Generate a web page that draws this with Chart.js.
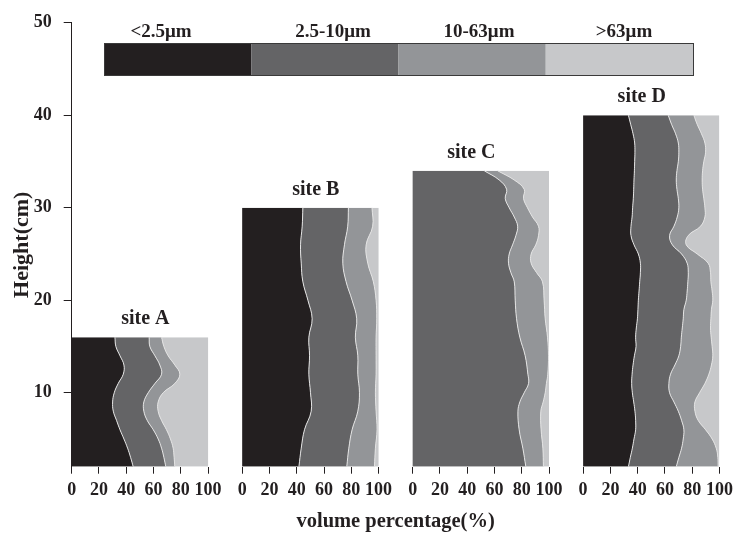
<!DOCTYPE html>
<html>
<head>
<meta charset="utf-8">
<script src="https://cdn.jsdelivr.net/npm/chart.js@4.4.1/dist/chart.umd.min.js"></script>
<style>
  html, body { margin: 0; padding: 0; background: #fff; }
</style>
</head>
<body>
<canvas id="profile" width="739" height="534"></canvas>
<script>
// fraction classes (legend)
const fractions = ['<2.5\u03bcm', '2.5-10\u03bcm', '10-63\u03bcm', '>63\u03bcm'];
const sites = ['site A', 'site B', 'site C', 'site D'];
const xTicks = [0, 20, 40, 60, 80, 100];
const yTicks = [10, 20, 30, 40, 50];

// cumulative boundaries (volume %), bottom -> top
const heightA = [2, 3, 4, 5, 6, 7, 8, 9, 10, 11, 12, 13, 14, 15, 16];
const fineA   = [45.1, 43.2, 41, 38.3, 35.4, 32.9, 30.5, 30, 31.2, 34.1, 37.8, 38.3, 35.4, 32.4, 31.7];
const siltA   = [69, 67.6, 65.9, 63.4, 59.8, 55.4, 52.9, 52.9, 56.1, 61, 65.9, 64.6, 61, 57.3, 56.8];
const sandA   = [75.6, 75.1, 74.4, 72.4, 69.5, 65.9, 63.4, 63.4, 67.1, 75.6, 79.3, 75.6, 70.7, 67.6, 65.9];

const heightB = [2, 4, 6, 8, 10, 12, 14, 16, 18, 20, 22, 24, 26, 28, 30];
const fineB   = [41.6, 43.3, 45.7, 50.6, 50.1, 48.9, 49.4, 48.9, 51.3, 48.2, 44.5, 43.3, 42.8, 44, 44.5];
const siltB   = [76.7, 78.2, 80.6, 84.8, 86, 84.8, 84.8, 83, 84, 80.6, 76.2, 73.8, 75, 77.4, 77.9];
const sandB   = [97, 97.7, 98.9, 98.2, 97.7, 98.2, 98.2, 98.2, 98.7, 98.2, 96.2, 92.1, 90.9, 95.7, 95.2];

const heightC = [2, 4, 6, 8, 9, 10, 11, 12, 14, 16, 18, 20, 22, 23, 24, 25, 26, 27, 28, 29, 30, 31, 32, 33, 34];
const fineC   = [0, 0, 0, 0, 0, 0, 0, 0, 0, 0, 0, 0, 0, 0, 0, 0, 0, 0, 0, 0, 0, 0, 0, 0, 0];
const siltC   = [83, 80.8, 78.1, 77.2, 78.6, 81.8, 85, 84.5, 82.5, 78.6, 76.2, 75.2, 74.5, 72, 70.3, 70.8, 73.3, 75.7, 77, 74.5, 70.8, 67.9, 68.9, 63.5, 52.5];
const sandC   = [95.9, 95.5, 94.2, 94, 95.7, 97.2, 98.1, 99.1, 99.6, 98.9, 97.2, 96.4, 95.2, 90.8, 86.9, 86.9, 90.3, 92.3, 92.3, 87.9, 84.2, 81.3, 81.8, 74.5, 62.3];

const heightD = [2, 3, 4, 5, 6, 7, 8, 9, 10, 11, 12, 13, 14, 15, 16, 17, 18, 19, 20, 21,
                 22, 23, 24, 25, 26, 27, 28, 29, 30, 31, 32, 33, 34, 35, 36, 37, 38, 39, 40];
const fineD   = [33.2, 34.6, 36.1, 37.3, 38.5, 38.5, 38, 37.1, 36.1, 35.6, 35.9, 36.6, 37.6, 38.8, 38.5, 39, 39.8, 40.2, 40.5, 41,
                 41.5, 42, 42, 40.5, 37.3, 35.1, 35.1, 35.9, 36.3, 36.8, 37.1, 37.3, 37.6, 37.8, 38, 37.8, 36.6, 34.9, 33.2];
const siltD   = [68.3, 70.2, 72.2, 73.4, 73.9, 72.2, 69.8, 66.6, 63.4, 62.9, 64.1, 67.3, 70.2, 71.5, 72, 72.7, 73.4, 73.9, 75.6, 76.3,
                 76.8, 77.1, 76.3, 72.2, 65.4, 63.4, 66.6, 69, 70.2, 69.8, 68.8, 68.3, 68.8, 69.8, 70.2, 69.8, 67.8, 64.9, 62.4];
const sandD   = [99, 98.8, 97.6, 94.6, 89.8, 84.4, 82, 82, 85.4, 89.3, 92.2, 94.1, 95.1, 94.6, 93.9, 93.4, 93.7, 94.1, 95.1, 94.6,
                 93.7, 93.4, 91.7, 83.7, 75.6, 77.1, 86.1, 89.3, 89.3, 88.5, 87.6, 87.3, 87.6, 88.5, 89.8, 89.3, 86.8, 83.7, 81.2];

const colors = ['#231f20', '#646466', '#939598', '#c7c8ca'];
const panelStep = 125;   // each panel is 100 wide, 25 gap

const profiles = [
    [heightA, fineA, siltA, sandA],
    [heightB, fineB, siltB, sandB],
    [heightC, fineC, siltC, sandC],
    [heightD, fineD, siltD, sandD]
];

let datasets = [];
profiles.forEach(function (p, s) {
    const off = s * panelStep;
    const h = p[0];
    const bounds = [p[1], p[2], p[3], h.map(() => 100)];
    bounds.forEach(function (b, k) {
        datasets.push({
            label: sites[s] + ' ' + fractions[k],
            data: h.map((v, i) => ({x: off + b[i], y: v})),
            backgroundColor: colors[k],
            borderColor: '#e4e4e4',
            borderWidth: (k < 3 && b.some(v => v > 0)) ? 1 : 0,
            pointRadius: 0,
            tension: 0.4,
            fill: k === 0 ? {value: off} : '-1'
        });
    });
});

const serif = '"Liberation Serif", "Times New Roman", serif';

const decorations = {
    id: 'decorations',
    afterDraw(chart) {
        const {ctx, scales: {x, y}} = chart;
        ctx.save();
        // legend bar
        const left = 104, right = 693, top = 43, hgt = 32;
        const w = (right - left) / 4;
        colors.forEach(function (c, i) {
            ctx.fillStyle = c;
            ctx.fillRect(left + i * w, top, w, hgt);
        });
        ctx.strokeStyle = '#3a3a3a';
        ctx.lineWidth = 1;
        ctx.strokeRect(left + 0.5, top + 0.5, right - left, hgt);
        ctx.fillStyle = '#231f20';
        ctx.font = 'bold 19px ' + serif;
        ctx.textAlign = 'center';
        ctx.textBaseline = 'alphabetic';
        const labelX = [161, 333, 479, 624];
        fractions.forEach((t, i) => ctx.fillText(t, labelX[i], 37));
        // site names above each profile
        ctx.font = 'bold 20px ' + serif;
        const siteX = [54, 54, 43, 43];
        profiles.forEach(function (p, s) {
            const topH = p[0][p[0].length - 1];
            ctx.fillText(sites[s], x.getPixelForValue(s * panelStep + siteX[s]), y.getPixelForValue(topH) - 13);
        });
        ctx.restore();
    }
};

new Chart(document.getElementById('profile'), {
    type: 'line',
    data: { datasets: datasets },
    options: {
        responsive: false,
        animation: false,
        indexAxis: 'y',
        layout: { padding: { left: 0, right: 18, top: 21, bottom: 0 } },
        plugins: {
            legend: { display: false },
            tooltip: { enabled: false }
        },
        scales: {
            x: {
                type: 'linear',
                min: 0,
                max: 3 * panelStep + 100,
                afterBuildTicks: function (scale) {
                    let t = [];
                    for (let s = 0; s < 4; s++) {
                        xTicks.forEach(v => t.push({value: s * panelStep + v}));
                    }
                    scale.ticks = t;
                },
                afterFit: function (scale) {
                    scale.height = 67.3;
                },
                grid: { drawOnChartArea: false, tickLength: 7, color: '#231f20', tickWidth: 1 },
                border: { display: false },
                ticks: {
                    autoSkip: false,
                    maxRotation: 0,
                    padding: 6,
                    color: '#231f20',
                    font: { family: serif, size: 18, weight: 'bold' },
                    callback: function (value) {
                        return value - Math.floor(value / panelStep) * panelStep;
                    }
                },
                title: {
                    display: true,
                    text: 'volume percentage(%)',
                    color: '#231f20',
                    font: { family: serif, size: 20.5, weight: 'bold' },
                    padding: { top: 4, bottom: 0 }
                }
            },
            y: {
                type: 'linear',
                min: 2,
                max: 50,
                afterBuildTicks: function (scale) {
                    scale.ticks = yTicks.map(v => ({value: v}));
                },
                afterFit: function (scale) {
                    scale.width = 71.7;
                },
                grid: { drawOnChartArea: false, tickLength: 8, color: '#231f20' },
                border: { display: true, color: '#231f20', width: 1 },
                ticks: {
                    padding: 12,
                    color: '#231f20',
                    font: { family: serif, size: 18, weight: 'bold' }
                },
                title: {
                    display: true,
                    text: 'Height(cm)',
                    color: '#231f20',
                    font: { family: serif, size: 22, weight: 'bold' },
                    padding: { top: 9, bottom: 0 }
                }
            }
        }
    },
    plugins: [decorations]
});
</script>
</body>
</html>
